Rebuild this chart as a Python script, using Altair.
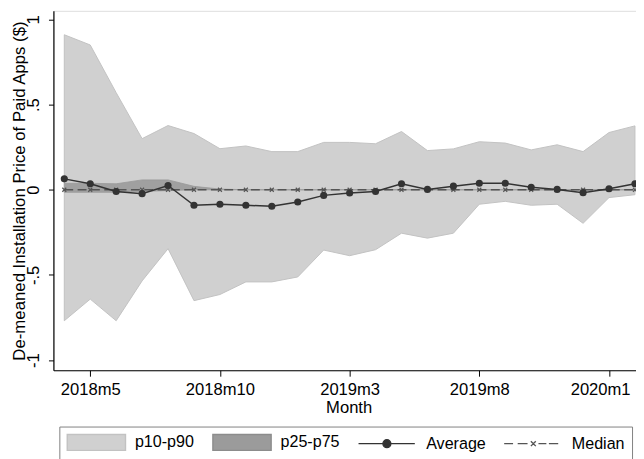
import altair as alt
import pandas as pd

months = ["2018m4", "2018m5", "2018m6", "2018m7", "2018m8", "2018m9", "2018m10", "2018m11",
          "2018m12", "2019m1", "2019m2", "2019m3", "2019m4", "2019m5", "2019m6", "2019m7",
          "2019m8", "2019m9", "2019m10", "2019m11", "2019m12", "2020m1", "2020m2"]
p90 = [0.91, 0.85, 0.57, 0.30, 0.377, 0.33, 0.241, 0.257, 0.224, 0.224, 0.278, 0.278,
       0.27, 0.342, 0.23, 0.24, 0.282, 0.274, 0.234, 0.264, 0.224, 0.336, 0.375]
p10 = [-0.769, -0.642, -0.769, -0.535, -0.346, -0.651, -0.615, -0.541, -0.541, -0.512,
       -0.354, -0.387, -0.352, -0.255, -0.284, -0.255, -0.085, -0.068, -0.091, -0.085,
       -0.197, -0.046, -0.029]
p75 = [0.038, 0.038, 0.035, 0.058, 0.058, 0.02, 0.004, 0.0, 0.0, 0.0, 0.0, 0.0,
       0.0, 0.0, 0.0, 0.0, 0.0, 0.0, 0.0, 0.0, 0.0, 0.0, 0.0]
p25 = [-0.015, -0.015, -0.015, -0.01, -0.005, 0.0, 0.0, 0.0, 0.0, 0.0, 0.0, 0.0,
       0.0, 0.0, 0.0, 0.0, 0.0, 0.0, 0.0, 0.0, 0.0, 0.0, 0.0]
avg = [0.064, 0.035, -0.01, -0.023, 0.025, -0.091, -0.085, -0.091, -0.097, -0.072,
       -0.033, -0.019, -0.01, 0.035, 0.002, 0.021, 0.038, 0.038, 0.015, 0.002,
       -0.017, 0.006, 0.035]
med = [0.0, 0.0, 0.0, 0.0, 0.0, 0.0, 0.0, 0.0, 0.0, 0.0, 0.0, 0.0,
       0.0, 0.0, 0.0, 0.0, 0.0, 0.0, 0.0, 0.0, 0.0, 0.0, 0.0]

x_tick_idx = [1, 6, 11, 16, 21]
y_ticks = [-1, -0.5, 0, 0.5, 1]
y_tick_labels = ["-1", "-.5", "0", ".5", "1"]
series = ["p10-p90", "p25-p75", "Average", "Median"]

df = pd.DataFrame({"idx": list(range(len(months))), "month": months, "p10": p10,
                   "p25": p25, "p75": p75, "p90": p90, "avg": avg, "med": med})

FONT = "Liberation Sans"
month_arr = "[" + ",".join("'%s'" % m for m in months) + "]"
x_label_expr = month_arr + "[datum.value]"
y_label_expr = " : ".join("datum.value == %s ? '%s'" % (v, l) for v, l in zip(y_ticks, y_tick_labels)) + " : ''"

x_scale = alt.Scale(domain=[-0.419, 22.04], nice=False, zero=False)
y_scale = alt.Scale(domain=[-1.0597, 1.0504], nice=False, zero=False)

x_axis = alt.Axis(values=x_tick_idx, labelExpr=x_label_expr, title="Month", grid=False,
                  tickSize=6, labelPadding=6, labelFontSize=16.8, labelFont=FONT,
                  labelColor="black", labelOverlap=False, labelFlush=False,
                  labelOffset={"condition": {"test": "datum.value == %d" % x_tick_idx[-1], "value": -9}, "value": 0},
                  domainColor="black", domainWidth=1.2, tickColor="black",
                  titleFont=FONT, titleFontSize=16.8, titleFontWeight="normal",
                  titleColor="black", titleX=299, titleY=42.3, titleBaseline="alphabetic",
                  titleAlign="center")
y_axis = alt.Axis(values=y_ticks, labelExpr=y_label_expr,
                  title="De-meaned Installation Price of Paid Apps ($)", grid=False,
                  tickSize=5, labelPadding=10, labelFontSize=16.8, labelFont=FONT,
                  labelColor="black", labelAngle=270, labelAlign="center",
                  labelBaseline="alphabetic", labelOverlap=False, labelFlush=False,
                  domainColor="black", domainWidth=1.2, tickColor="black",
                  titleFont=FONT, titleFontSize=17, titleFontWeight="normal",
                  titleColor="black", titleAngle=270, titleX=-29, titleY=182,
                  titleBaseline="alphabetic", titleAlign="center")

base = alt.Chart(df)
X = alt.X("idx:Q", scale=x_scale, axis=x_axis)

band90 = base.mark_area(color="#d0d0d0", stroke="#c2c2c2", strokeWidth=1, opacity=1).encode(
    x=X, y=alt.Y("p10:Q", scale=y_scale, axis=y_axis), y2="p90:Q")
band75 = base.mark_area(color="#a0a0a0", stroke="#999999", strokeWidth=0.8, opacity=1).encode(
    x=X, y=alt.Y("p25:Q", scale=y_scale), y2="p75:Q")
med_line = base.mark_line(color="#555555", strokeWidth=1.3, strokeDash=[9, 4.5]).encode(
    x=X, y=alt.Y("med:Q", scale=y_scale))
med_pts = base.mark_point(shape="M-1,-1L1,1M-1,1L1,-1", size=16, stroke="#555555",
                          strokeWidth=1.2, filled=False, opacity=1).encode(
    x=X, y=alt.Y("med:Q", scale=y_scale))
avg_line = base.mark_line(color="#333333", strokeWidth=1.5).encode(
    x=X, y=alt.Y("avg:Q", scale=y_scale))
avg_pts = base.mark_circle(color="#333333", size=52, opacity=1).encode(
    x=X, y=alt.Y("avg:Q", scale=y_scale))

# legend symbols (custom paths, symbol unit = 8px)
rect_path = "M-1,-1H6.375V1H-1Z"
avg_path = "M-1,0H6.125M2.09,0a0.5,0.5 0 1 0 1,0a0.5,0.5 0 1 0 -1,0Z"
med_path = ("M-1,0H0.125M0.71,0H1.96M2.38,-0.31L3,0.31M2.38,0.31L3,-0.31"
            "M3.34,0H4.34M4.66,0H5.84")
leg = dict(orient="none", legendX=6, legendY=421, direction="horizontal", columns=4,
           title=None, symbolSize=256, labelOffset=51.5, columnPadding=15.5,
           labelFont=FONT, labelFontSize=16.3, labelColor="black", padding=7,
           strokeColor="#808080", symbolStrokeWidth=1.4, labelLimit=200)
legend_layer = alt.Chart(pd.DataFrame({"series": series})).mark_point(
    size=256, strokeWidth=1.4, opacity=1).encode(
    shape=alt.Shape("series:N", scale=alt.Scale(domain=series,
                    range=[rect_path, rect_path, avg_path, med_path]), legend=alt.Legend(**leg)),
    fill=alt.Fill("series:N", scale=alt.Scale(domain=series,
                  range=["#d0d0d0", "#9b9b9b", "#333333", "transparent"]), legend=alt.Legend(**leg)),
    stroke=alt.Stroke("series:N", scale=alt.Scale(domain=series,
                      range=["#c2c2c2", "#8c8c8c", "#333333", "#555555"]), legend=alt.Legend(**leg)),
).transform_filter("false")

chart = alt.layer(band90, band75, med_line, med_pts, avg_line, avg_pts, legend_layer).properties(
    width=590, height=364,
    autosize=alt.AutoSizeParams(type="none"),
    padding={"left": 46, "top": 0, "right": 0, "bottom": 87},
).configure_view(stroke="#8a8a8a", strokeWidth=1).configure(background="white")

chart.save("out.html", embed_options={"renderer": "svg", "actions": False})
